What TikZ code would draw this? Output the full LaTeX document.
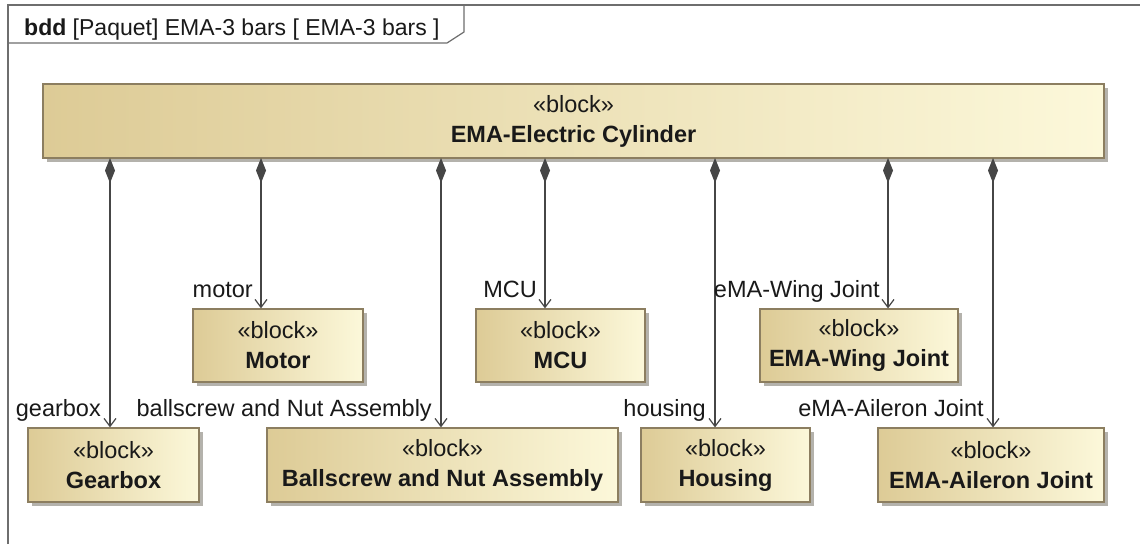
\documentclass[tikz,border=0pt]{standalone}
\usepackage{fontspec}
\setmainfont{Liberation Sans}
\usetikzlibrary{arrows.meta,shadows}
\definecolor{blkL}{RGB}{221,203,150}
\definecolor{blkR}{RGB}{252,248,218}
\definecolor{bordc}{RGB}{140,126,96}
\definecolor{shadc}{RGB}{180,178,172}
\definecolor{linec}{RGB}{70,70,70}
\definecolor{txtc}{RGB}{25,25,25}
\definecolor{framec}{RGB}{110,110,110}
\tikzset{
  blk/.style={draw=bordc, line width=1.2pt, left color=blkL, right color=blkR,
    inner sep=0pt, align=center, text=txtc,
    font=\fontsize{23.5pt}{30pt}\selectfont,
    general shadow={shadow xshift=4pt, shadow yshift=-4pt, fill=shadc}},
  lbl/.style={inner sep=0pt, text=txtc, font=\fontsize{23.5pt}{28pt}\selectfont},
  comp/.style={draw=linec, line width=1.2pt,
    {Diamond[length=25pt,width=10pt,fill=linec]}-{Straight Barb[length=8pt,width=12pt,line width=1.2pt]}}
}
\begin{document}
\begin{tikzpicture}[x=1pt,y=-1pt]
\useasboundingbox (0,0) rectangle (1140,544);
\fill[white] (0,0) rectangle (1140,544);
% frame
\draw[framec, line width=1.5pt] (8,544) -- (8,5) -- (1140,5);
\draw[framec, line width=1.2pt] (8,43) -- (447,43) -- (464,32) -- (464,5);
\node[inner sep=0pt, text=txtc, font=\fontsize{23pt}{28pt}\selectfont, anchor=base west] (hdr) at (24,35) {\textbf{bdd} [Paquet] EMA-3 bars [ EMA-3 bars ]};
% blocks
\node[blk, minimum width=1061pt, minimum height=74pt] (big) at (573.5,121) {«block»\\\textbf{EMA-Electric Cylinder}};
\node[blk, minimum width=171pt, minimum height=74pt] (gear) at (113.5,465) {«block»\\\textbf{Gearbox}};
\node[blk, minimum width=170pt, minimum height=73pt] (motor) at (278,345.5) {«block»\\\textbf{Motor}};
\node[blk, minimum width=169pt, minimum height=73pt] (mcu) at (560.5,345.5) {«block»\\\textbf{MCU}};
\node[blk, minimum width=198pt, minimum height=73pt] (wing) at (859,345.5) {«block»\\\textbf{EMA-Wing Joint}};
\node[blk, minimum width=351pt, minimum height=74pt] (ball) at (442.5,465) {«block»\\\textbf{Ballscrew and Nut Assembly}};
\node[blk, minimum width=169pt, minimum height=74pt] (hous) at (725.5,465) {«block»\\\textbf{Housing}};
\node[blk, minimum width=226pt, minimum height=74pt] (ail) at (991,465) {«block»\\\textbf{EMA-Aileron Joint}};
% connector start points on the bottom of the main block
\coordinate (pg) at (110,158);
\coordinate (pm) at (261,158);
\coordinate (pb) at (441,158);
\coordinate (pc) at (545,158);
\coordinate (ph) at (715,158);
\coordinate (pw) at (888,158);
\coordinate (pa) at (993,158);
\draw[comp] (pg) -- (pg |- gear.north);
\draw[comp] (pm) -- (pm |- motor.north);
\draw[comp] (pb) -- (pb |- ball.north);
\draw[comp] (pc) -- (pc |- mcu.north);
\draw[comp] (ph) -- (ph |- hous.north);
\draw[comp] (pw) -- (pw |- wing.north);
\draw[comp] (pa) -- (pa |- ail.north);
% role labels
\node[lbl, anchor=base east] (lg) at (101,416) {gearbox};
\node[lbl, anchor=base east] (lm) at (253,297) {motor};
\node[lbl, anchor=base east] (lb) at (432,416) {ballscrew and Nut Assembly};
\node[lbl, anchor=base east] (lc) at (537,297) {MCU};
\node[lbl, anchor=base east] (lh) at (706,416) {housing};
\node[lbl, anchor=base east] (lw) at (880,297) {eMA-Wing Joint};
\node[lbl, anchor=base east] (la) at (984,416) {eMA-Aileron Joint};
\end{tikzpicture}
\end{document}
